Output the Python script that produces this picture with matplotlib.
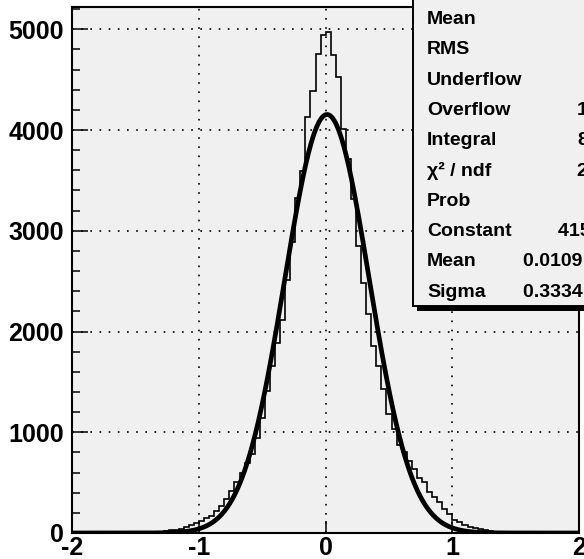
import matplotlib
matplotlib.use("Agg")
import matplotlib.pyplot as plt
import numpy as np
from matplotlib.patches import Rectangle
from matplotlib.ticker import MultipleLocator

plt.rcParams['font.family'] = ['Liberation Sans', 'DejaVu Sans']

# ---- data ----
bin_edges_range = (-2.0, 2.0)
n_bins = 100
counts_left = [0, 0, 0, 0, 0, 0, 0, 0, 1, 0,
               0, 1, 1, 1, 2, 3, 4, 5, 7, 10,
               13, 18, 25, 33, 44, 58, 75, 95, 122, 149,
               172, 221, 271, 338, 420, 510, 600, 690, 785, 943,
               1139, 1413, 1661, 1887, 2118, 2512, 2887, 3324, 3598, 4128,
               4387, 4753, 4944]
counts_right = [4970, 4743, 4529, 4012, 3714, 3317, 2853, 2480, 2175, 1860,
                1661, 1430, 1182, 1033, 874, 804, 718, 636, 543, 503,
                410, 361, 311, 238, 189, 129, 106, 82, 63, 47,
                35, 26, 19, 14, 10, 8, 6, 4, 3, 2,
                2, 1, 1, 1, 0, 1, 0, 0, 0, 0]
counts_left = counts_left[-50:]
counts = counts_left + counts_right

fit_constant = 4154.0
fit_mean = 0.0109
fit_sigma = 0.3334

x_ticks = [-2, -1, 0, 1, 2]
x_tick_labels = ['-2', '-1', '0', '1', '2']
y_ticks = [0, 1000, 2000, 3000, 4000, 5000]
y_tick_labels = ['0', '1000', '2000', '3000', '4000', '5000']

stat_labels = ['Mean', 'RMS', 'Underflow', 'Overflow', 'Integral',
               'χ² / ndf', 'Prob', 'Constant', 'Mean', 'Sigma']
stat_values = ['0.01071', '0.3898', '102', '116', '8.669e+04',
               '2184 / 97', '0', '4154 ± 19.8', '0.0109 ± 0.0013',
               '0.3334 ± 0.0010']
stat_value_x = [600, 600, 600, 577, 577, 577, 600, 558, 523, 523]

# ---- figure ----
W, H = 584, 559
fig = plt.figure(figsize=(W / 100, H / 100), dpi=100, facecolor='white')

def fx(x):
    return x / W

def fy(y):
    return 1 - y / H

ax_l, ax_r, ax_t, ax_b = 72.3, 579.0, 6.7, 533.0
ax = fig.add_axes([fx(ax_l), fy(ax_b), fx(ax_r) - fx(ax_l), fy(ax_t) - fy(ax_b)])
ax.set_facecolor('#f0f0f0')

edges = np.linspace(bin_edges_range[0], bin_edges_range[1], n_bins + 1)
ax.stairs(counts, edges, color='black', lw=1.2, baseline=0, zorder=3)

xf = np.linspace(-2, 2, 801)
yf = fit_constant * np.exp(-0.5 * ((xf - fit_mean) / fit_sigma) ** 2)
ax.plot(xf, yf, color='black', lw=3.4, zorder=4, solid_capstyle='butt')

ax.set_xlim(-2, 2)
ax.set_ylim(0, 5224)

ax.set_xticks(x_ticks)
ax.set_xticklabels(x_tick_labels, fontsize=18, fontweight='bold')
ax.set_yticks(y_ticks)
ax.set_yticklabels(y_tick_labels, fontsize=18, fontweight='bold')
ax.yaxis.set_minor_locator(MultipleLocator(200))
ax.tick_params(axis='y', which='major', direction='in', length=11.5, width=1.1, pad=6)
ax.tick_params(axis='y', which='minor', direction='in', length=5.8, width=1.1)
ax.tick_params(axis='x', which='major', direction='in', length=9, width=1.1, pad=2)

ax.grid(True, which='major', color='black', linestyle=(0, (1, 4.5)), lw=1.2)
for s in ax.spines.values():
    s.set_linewidth(1.5)
    s.set_color('black')
ax.set_axisbelow(True)

# ---- stats box ----
shadow = Rectangle((fx(417), fy(310.5)), fx(800) - fx(417), fy(-20) - fy(310.5),
                   transform=fig.transFigure, facecolor='black', edgecolor='none', zorder=10)
box = Rectangle((fx(413), fy(305.5)), fx(800) - fx(413), fy(-20) - fy(305.5),
                transform=fig.transFigure, facecolor='#f0f0f0', edgecolor='black',
                lw=1.4, zorder=11)
fig.add_artist(shadow)
fig.add_artist(box)
for k, (lab, val, vx) in enumerate(zip(stat_labels, stat_values, stat_value_x)):
    yy = 19.5 + 30.3 * k
    fig.text(fx(427), fy(yy), lab, fontsize=14, fontweight='bold', ha='left', va='center', zorder=12)
    fig.text(fx(vx), fy(yy), val, fontsize=14, fontweight='bold', ha='left', va='center', zorder=12)

fig.savefig('out.png', dpi=100, facecolor='white')
